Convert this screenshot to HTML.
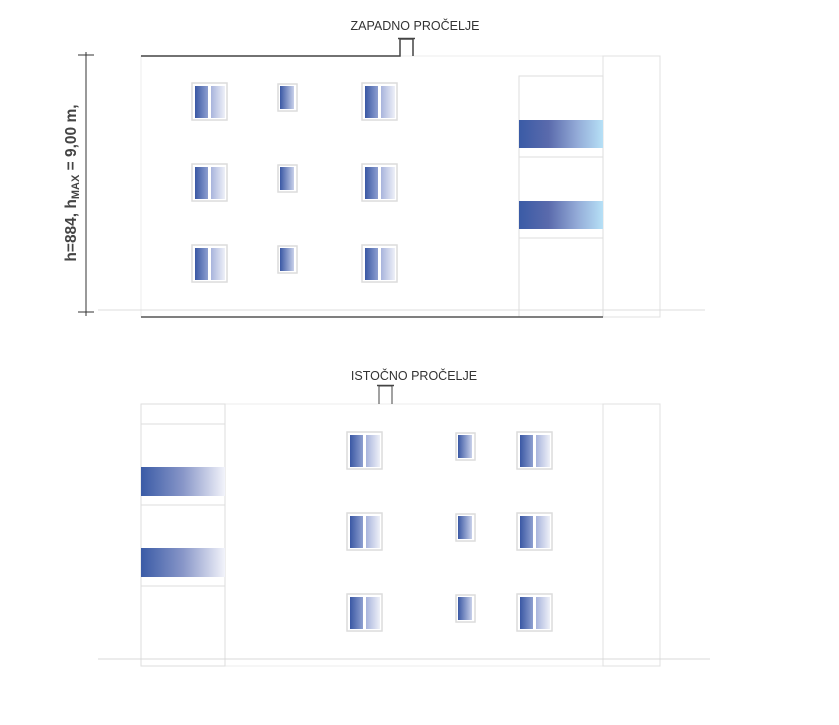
<!DOCTYPE html>
<html><head><meta charset="utf-8"><style>
html,body{margin:0;padding:0;background:#fff;}
svg{display:block;font-family:"Liberation Sans",sans-serif;}
</style></head><body>
<svg width="839" height="725" viewBox="0 0 839 725" xmlns="http://www.w3.org/2000/svg">
<defs>
<linearGradient id="dk" x1="0" x2="1"><stop offset="0" stop-color="#3a58a4"/><stop offset="1" stop-color="#8e9fd0"/></linearGradient>
<linearGradient id="lt" x1="0" x2="1"><stop offset="0" stop-color="#a8b4dc"/><stop offset="1" stop-color="#eef0f8"/></linearGradient>
<linearGradient id="sm" x1="0" x2="1"><stop offset="0" stop-color="#3a58a4"/><stop offset="1" stop-color="#c8d0ea"/></linearGradient>
<linearGradient id="bandW" x1="0" x2="1"><stop offset="0" stop-color="#3a5ba6"/><stop offset="0.35" stop-color="#5a6aac"/><stop offset="0.7" stop-color="#94acd8"/><stop offset="1" stop-color="#b6e0f6"/></linearGradient>
<linearGradient id="bandE" x1="0" x2="1"><stop offset="0" stop-color="#3a5ba6"/><stop offset="0.5" stop-color="#8896c8"/><stop offset="1" stop-color="#f2f3fa"/></linearGradient>
<g id="dbl"><rect x="0" y="0" width="35" height="37" fill="#fff" stroke="#dcdcdc" stroke-width="1.5"/><rect x="3" y="3" width="13" height="32" fill="url(#dk)"/><rect x="19" y="3" width="14" height="32" fill="url(#lt)"/></g>
<g id="sgl"><rect x="0" y="0" width="19" height="27" fill="#fff" stroke="#dcdcdc" stroke-width="1.5"/><rect x="2" y="2" width="14" height="23" fill="url(#sm)"/></g>
</defs>

<!-- WEST -->
<text x="415" y="30" font-size="12.5" text-anchor="middle" fill="#333">ZAPADNO PROČELJE</text>
<rect x="141" y="56" width="519" height="261" fill="none" stroke="#ececec"/>
<rect x="603" y="56" width="57" height="261" fill="none" stroke="#e0e0e0"/>
<rect x="519" y="76" width="84" height="241" fill="none" stroke="#dedede"/>
<line x1="519" y1="157" x2="603" y2="157" stroke="#dedede"/>
<line x1="519" y1="238" x2="603" y2="238" stroke="#dedede"/>
<rect x="519" y="120" width="84" height="28" fill="url(#bandW)"/>
<rect x="519" y="201" width="84" height="28" fill="url(#bandW)"/>
<polyline points="141,56 400,56 400,39 413,39 413,56" fill="none" stroke="#444" stroke-width="1.5"/>
<line x1="398" y1="38.5" x2="415" y2="38.5" stroke="#444" stroke-width="1.5"/>
<line x1="98" y1="310" x2="705" y2="310" stroke="#dcdcdc"/>
<line x1="141" y1="317" x2="603" y2="317" stroke="#555" stroke-width="1.5"/>
<line x1="86" y1="52" x2="86" y2="316" stroke="#333"/>
<line x1="78" y1="55" x2="94" y2="55" stroke="#333"/>
<line x1="78" y1="312" x2="94" y2="312" stroke="#333"/>
<text transform="translate(76,183) rotate(-90)" font-size="15.5" font-weight="bold" text-anchor="middle" fill="#444">h=884, h<tspan font-size="11" dy="3">MAX</tspan><tspan dy="-3"> = 9,00 m,</tspan></text>
<use href="#dbl" x="192" y="83"/><use href="#sgl" x="278" y="84"/><use href="#dbl" x="362" y="83"/>
<use href="#dbl" x="192" y="164"/><use href="#sgl" x="278" y="165"/><use href="#dbl" x="362" y="164"/>
<use href="#dbl" x="192" y="245"/><use href="#sgl" x="278" y="246"/><use href="#dbl" x="362" y="245"/>

<!-- EAST -->
<text x="414" y="380" font-size="12.5" text-anchor="middle" fill="#333">ISTOČNO PROČELJE</text>
<rect x="141" y="404" width="519" height="262" fill="none" stroke="#ececec"/>
<rect x="603" y="404" width="57" height="262" fill="none" stroke="#e0e0e0"/>
<rect x="141" y="404" width="84" height="262" fill="none" stroke="#dedede"/>
<line x1="141" y1="424" x2="225" y2="424" stroke="#dedede"/>
<line x1="141" y1="505" x2="225" y2="505" stroke="#dedede"/>
<line x1="141" y1="586" x2="225" y2="586" stroke="#dedede"/>
<rect x="141" y="467" width="84" height="29" fill="url(#bandE)"/>
<rect x="141" y="548" width="84" height="29" fill="url(#bandE)"/>
<polyline points="379,404 379,386 392,386 392,404" fill="none" stroke="#444"/>
<line x1="377" y1="385.5" x2="394" y2="385.5" stroke="#444" stroke-width="1.5"/>
<line x1="98" y1="659" x2="710" y2="659" stroke="#d8d8d8"/>
<use href="#dbl" x="347" y="432"/><use href="#sgl" x="456" y="433"/><use href="#dbl" x="517" y="432"/>
<use href="#dbl" x="347" y="513"/><use href="#sgl" x="456" y="514"/><use href="#dbl" x="517" y="513"/>
<use href="#dbl" x="347" y="594"/><use href="#sgl" x="456" y="595"/><use href="#dbl" x="517" y="594"/>
</svg>
</body></html>
